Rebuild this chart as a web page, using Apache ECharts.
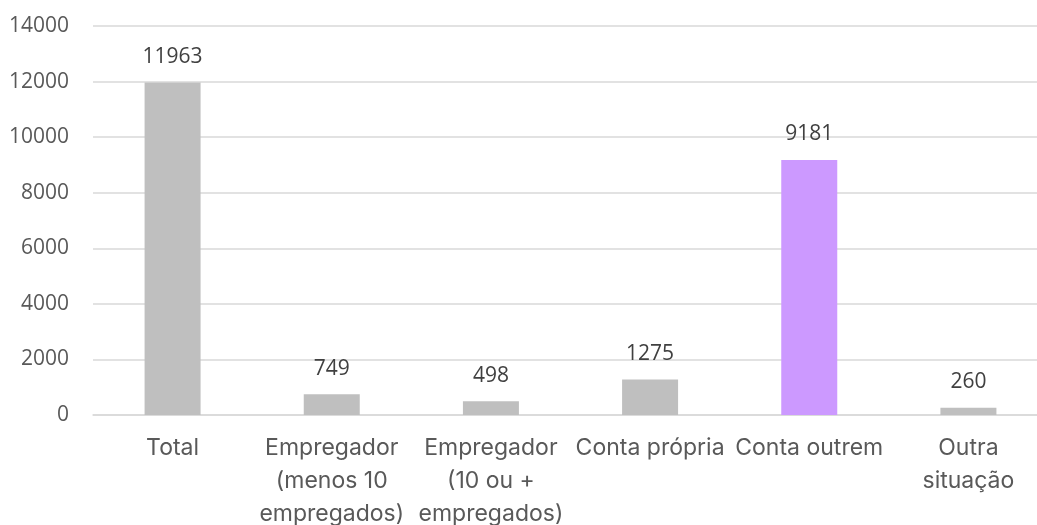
<!DOCTYPE html>
<html>
<head>
<meta charset="utf-8">
<script src="https://cdn.jsdelivr.net/npm/echarts@6/dist/echarts.min.js"></script>
<style>
html,body{margin:0;padding:0;background:#fff;}
#c{width:1037px;height:525px;}
</style>
</head>
<body>
<div id="c"></div>
<script>
const categories = ["Total", "Empregador\n(menos 10\nempregados)", "Empregador\n(10 ou +\nempregados)", "Conta própria", "Conta outrem", "Outra\nsituação"];
const values = [11963, 749, 498, 1275, 9181, 260];
const highlightIndex = 4;
const yTicks = { min: 0, max: 14000, interval: 2000 };

const chart = echarts.init(document.getElementById('c'), null, { renderer: 'canvas' });
chart.setOption({
  animation: false,
  backgroundColor: '#ffffff',
  grid: { left: 93, top: 26, width: 955, bottom: 110, containLabel: false, outerBoundsMode: 'none' },
  xAxis: {
    type: 'category',
    data: categories,
    axisLine: { show: true, lineStyle: { color: '#D9D9D9', width: 1.5 } },
    axisTick: { show: false },
    axisLabel: {
      color: '#595959',
      fontFamily: 'Inter',
      fontSize: 23,
      lineHeight: 33,
      margin: 17,
      interval: 0
    }
  },
  yAxis: {
    type: 'value',
    min: yTicks.min,
    max: yTicks.max,
    interval: yTicks.interval,
    axisLine: { show: false },
    axisTick: { show: false },
    splitLine: { lineStyle: { color: '#D9D9D9', width: 1.5 } },
    axisLabel: {
      color: '#595959',
      fontFamily: 'Open Sans',
      fontSize: 21,
      margin: 24,
      formatter: v => String(v)
    }
  },
  series: [{
    type: 'bar',
    data: values.map((v, i) => ({
      value: v,
      itemStyle: { color: i === highlightIndex ? '#CC99FF' : '#BFBFBF' }
    })),
    barWidth: 56,
    label: {
      show: true,
      position: 'top',
      distance: 15,
      color: '#404040',
      fontFamily: 'Open Sans',
      fontSize: 21,
      lineHeight: 21
    }
  }]
});
</script>
</body>
</html>
